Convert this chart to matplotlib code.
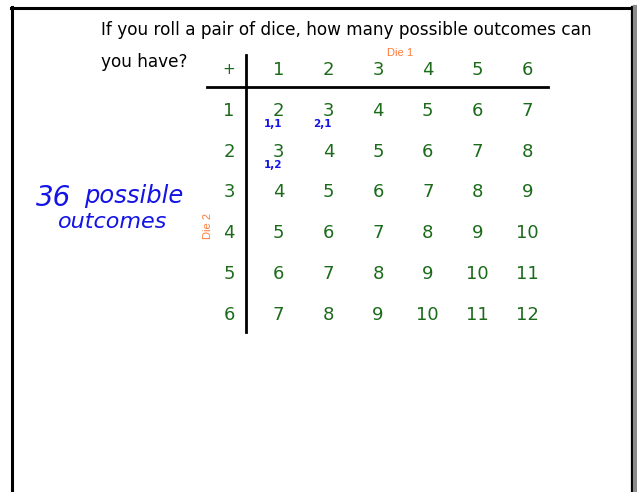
import matplotlib.pyplot as plt
from matplotlib.lines import Line2D

# Data
die1 = [1, 2, 3, 4, 5, 6]
die2 = [1, 2, 3, 4, 5, 6]
sums = [[a + b for a in die1] for b in die2]
notes = [("1,1", 1, 1), ("2,1", 2, 1), ("1,2", 1, 2)]  # (label, die1, die2)

green = "#1b6b1b"
orange = "#ff7b3a"
blue = "#1414e6"

fig = plt.figure(figsize=(6.37, 4.92), dpi=100)
fig.patch.set_facecolor("white")

# whiteboard frame
W, H = 637, 492
fig.add_artist(Line2D([12 / W, 12 / W], [0, 1 - 7 / H], color="black", lw=2.2))
fig.add_artist(Line2D([11 / W, 632 / W], [1 - 8 / H, 1 - 8 / H], color="black", lw=2.2))
fig.add_artist(Line2D([632 / W, 632 / W], [0, 1 - 7 / H], color="black", lw=1.6))
fig.add_artist(Line2D([634.5 / W, 634.5 / W], [0, 1 - 7 / H], color="#8c8c8c", lw=3))

fig.text(101 / W, 1 - 30 / H, "If you roll a pair of dice, how many possible outcomes can",
         fontsize=12.15, va="center", ha="left")
fig.text(101 / W, 1 - 62 / H, "you have?", fontsize=12.15, va="center", ha="left")

# handwriting
fig.text(36 / W, 1 - 206 / H, "36", fontsize=20, color=blue, va="baseline", ha="left",
         style="italic")
fig.text(84 / W, 1 - 203 / H, "possible", fontsize=17.5, color=blue, va="baseline",
         ha="left", style="italic")
fig.text(58 / W, 1 - 228 / H, "outcomes", fontsize=16, color=blue, va="baseline",
         ha="left", style="italic")

# table axes: column j / row i centred on integer data coordinates
ax = fig.add_axes([204.2 / W, 1 - 335.2 / H, 347.8 / W, 285.6 / H])
ax.set_xlim(-0.5, 6.5)
ax.set_ylim(6.5, -0.5)
ax.axis("off")

ax.text(0, 0, "+", color=green, fontsize=11, ha="center", va="center")
for j, d in enumerate(die1, start=1):
    ax.text(j, 0, str(d), color=green, fontsize=13, ha="center", va="center")
for i, d in enumerate(die2, start=1):
    ax.text(0, i, str(d), color=green, fontsize=13, ha="center", va="center")
    for j in range(1, len(die1) + 1):
        ax.text(j, i, str(sums[i - 1][j - 1]), color=green, fontsize=13,
                ha="center", va="center")

for lab, a, b in notes:
    ax.text(a - 0.12, b + 0.33, lab, color=blue, fontsize=7.5, fontweight="bold",
            ha="center", va="center")

ax.plot([0.35, 0.35], [-0.37, 6.42], color="black", lw=2, clip_on=False)
ax.plot([-0.44, 6.42], [0.42, 0.42], color="black", lw=2, clip_on=False)

ax.text(3.44, -0.42, "Die 1", color=orange, fontsize=8, family="Liberation Sans",
        ha="center", va="center")
ax.text(-0.42, 3.82, "Die 2", color=orange, fontsize=8, family="Liberation Sans",
        ha="center", va="center", rotation=90)

fig.savefig("out.png", dpi=100)
